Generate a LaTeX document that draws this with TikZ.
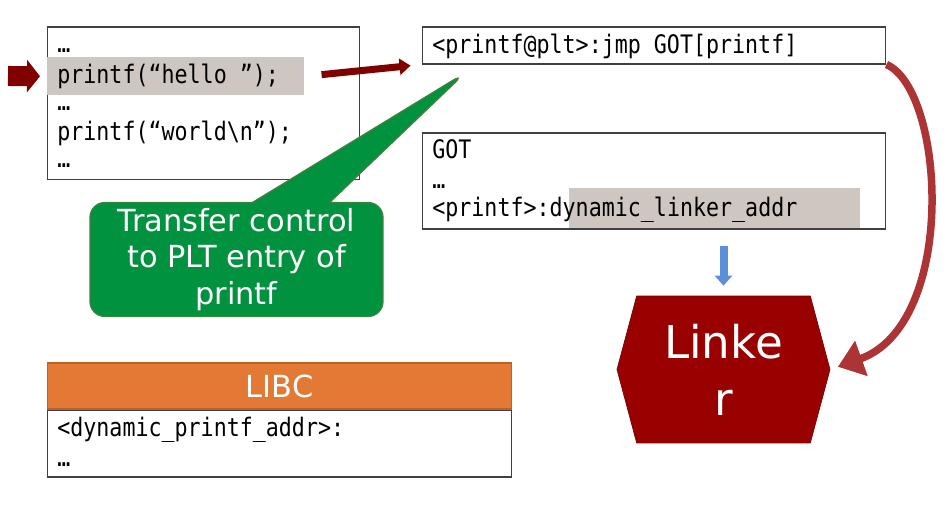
\documentclass[tikz,border=0pt]{standalone}
\usepackage{fontspec}
\setmainfont{DejaVu Sans}
\setmonofont[FakeStretch=0.85]{DejaVu Sans Mono}
\usepackage{tikz}
\usetikzlibrary{shapes.symbols,shapes.callouts,arrows.meta,positioning}
\usepackage{xcolor}
\definecolor{darkred}{RGB}{128,0,0}
\definecolor{linkred}{RGB}{153,0,0}
\definecolor{linkedge}{RGB}{120,0,0}
\definecolor{calloutgreen}{RGB}{0,146,63}
\definecolor{calloutedge}{RGB}{60,130,60}
\definecolor{libcorange}{RGB}{226,122,54}
\definecolor{libcedge}{RGB}{190,95,35}
\definecolor{hlgray}{RGB}{206,199,193}
\definecolor{gotblue}{RGB}{91,143,217}
\definecolor{curvered}{RGB}{172,52,52}

\begin{document}
\begin{tikzpicture}[
  x=0.02cm,
  y=0.02cm,
  box/.style={draw=black!75, line width=0.6pt, fill=white, inner sep=0pt},
  hl/.style={fill=hlgray, inner sep=0pt},
  code/.style={font=\ttfamily\fontsize{14.5}{17}\selectfont, inner sep=0pt, anchor=base west},
  big/.style={font=\fontsize{17.3}{20.7}\selectfont, text=white, align=center},
  arrow/.style={darkred, -{Triangle[length=0.22cm, width=0.32cm]}, line width=0.14cm},
  fatarrow/.style={darkred, -{Triangle[length=0.26cm, width=0.64cm]}, line width=0.4cm},
  downarrow/.style={gotblue, -{Triangle[length=0.2cm, width=0.34cm]}, line width=0.16cm},
  curvearrow/.style={curvered, -{Triangle[length=0.5cm, width=0.72cm]}, line width=0.15cm}
]
\useasboundingbox (0,0) rectangle (951,509);

\node[box, minimum width=6.26cm, minimum height=3.06cm] (code) at (203.5,405.5) {};
\node[hl, minimum width=5.14cm, minimum height=0.76cm, anchor=north west] (hello) at (47,452) {};
\node[code] (c1) at (57,456) {…};
\node[code] (c2) at (57,425) {printf(“hello ”);};
\node[code] (c3) at (57,398) {…};
\node[code] (c4) at (57,368) {printf(“world\textbackslash n”);};
\node[code] (c5) at (57,341) {…};

\node[box, minimum width=9.28cm, minimum height=0.74cm] (plt) at (654,463.5) {};
\node[code] (pltline) at (432,455) {<printf@plt>:jmp GOT[printf]};

\node[box, minimum width=9.28cm, minimum height=1.92cm] (got) at (654,328) {};
\node[hl, minimum width=5.82cm, minimum height=0.8cm, anchor=north west] (linkaddr) at (569,321) {};
\node[code] (g1) at (432,350) {GOT};
\node[code] (g2) at (432,320) {…};
\node[code] (g3) at (432,292) {<printf>:dynamic\_linker\_addr};

\node[box, fill=libcorange, draw=libcedge, minimum width=9.3cm, minimum height=0.92cm, big] (libc) at (279.5,123) {LIBC};
\node[box, minimum width=9.3cm, minimum height=1.34cm, below=0pt of libc] (libcbody) {};
\node[code] (l1) at (57,72) {<dynamic\_printf\_addr>:};
\node[code] (l2) at (57,42) {…};

\node[signal, signal to=west and east, signal pointer angle=150, fill=linkred, draw=linkedge,
  minimum width=4.26cm, minimum height=2.94cm, inner sep=0pt, text=white, align=center,
  font=\fontsize{25.7}{32.3}\selectfont] (linker) at (723.5,139.5) {Linke\\r};

\coordinate (entry) at (8,433);
\coordinate (tip) at (465,436);

\draw[fatarrow, shorten >=0.14cm] (entry) -- (hello.west);
\draw[arrow, shorten <=0.34cm, shorten >=0.22cm] (hello.east) -- (plt.south west);
\draw[downarrow, shorten <=0.32cm, shorten >=0.2cm] (got.south -| linker.north) -- (linker.north);
\draw[curvearrow, shorten >=0.16cm] (plt.south east) .. controls (945,419) and (958,185) .. (linker.east);

\node[rectangle callout, callout absolute pointer=(tip), callout pointer width=1.54cm,
  rounded corners=0.3cm, fill=calloutgreen, draw=calloutedge, line width=0.8pt,
  minimum width=5.86cm, minimum height=2.22cm, big] (xfer) at (236.5,249.5)
  {Transfer control\\to PLT entry of\\printf};
\end{tikzpicture}
\end{document}
